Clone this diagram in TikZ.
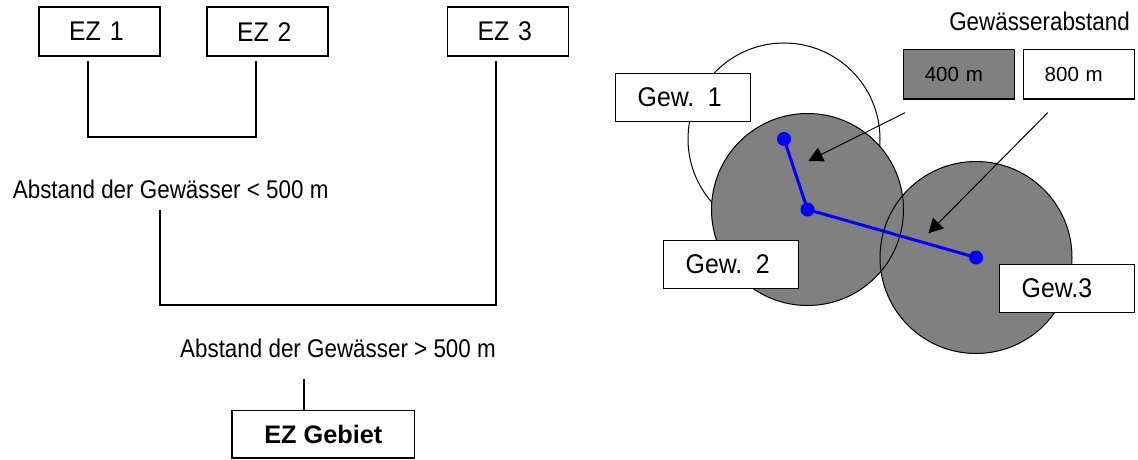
\documentclass[tikz,border=0pt]{standalone}
\usepackage{fontspec}
\setmainfont{Liberation Sans}
\newfontfamily\boxfont[FakeStretch=0.92]{Liberation Sans}
\newfontfamily\narrowfont[FakeStretch=0.875]{Liberation Sans}
\usetikzlibrary{arrows.meta}
\definecolor{areagray}{RGB}{128,128,128}
\definecolor{netblue}{RGB}{0,0,255}
\begin{document}
\begin{tikzpicture}[x=1pt,y=-1pt,
  ezbox/.style={draw, line width=1.3pt, fill=white, minimum height=49pt,
    text width=61pt, inner xsep=30pt, align=left,
    font={\boxfont\fontsize{27}{30}\selectfont}},
  gewbox/.style={draw, line width=1.3pt, fill=white, minimum height=48pt,
    text width=91pt, inner xsep=22pt, align=left,
    font={\boxfont\fontsize{27}{30}\selectfont}},
  legbox/.style={draw, line width=1.3pt, minimum height=49.7pt,
    text width=69pt, inner xsep=21pt, align=left,
    font={\fontsize{20.5}{24}\selectfont}},
  gebietbox/.style={draw, line width=1.3pt, minimum width=182.7pt, minimum height=47.3pt,
    font={\bfseries\fontsize{25.3}{28}\selectfont}},
  lbl/.style={inner sep=0pt, font={\narrowfont\fontsize{25.6}{28}\selectfont}},
  conn/.style={line width=1.3pt},
  ring/.style={line width=1pt},
  pointer/.style={line width=1pt, -{Triangle[length=14.5pt,width=15pt]}},
  link/.style={netblue, line width=3pt},
  dot/.style={circle, fill=netblue, inner sep=0pt, minimum size=14pt}
]
\useasboundingbox (0,0) rectangle (1138,460);

% ---------- left: hierarchy ----------
\node[ezbox] (ez1) at (99.6,31.6) {EZ 1};
\node[ezbox] (ez2) at (267.5,31.6) {EZ 2};
\node[ezbox] (ez3) at (508,31.6) {EZ 3};

\coordinate (a1) at (88,61);
\coordinate (a2) at (256,61);
\coordinate (a3) at (496,61);
\draw[conn] (a1) -- (88,137) -- (256,137) -- (a2);

\node[lbl, anchor=base west] (lt) at (12.7,198.3) {Abstand der Gewässer < 500 m};
\coordinate (b1) at (160,210);
\draw[conn] (b1) -- (160,305) -- (496,305) -- (a3);

\node[lbl, anchor=base east] (gt) at (496,357.7) {Abstand der Gewässer > 500 m};
\node[gebietbox] (gebiet) at (323.3,434.4) {EZ Gebiet};
\coordinate (c1) at (304,379);
\draw[conn] (c1) -- (gebiet.north -| c1);

% ---------- right: buffers ----------
\coordinate (g1) at (784,139);
\coordinate (g2) at (807.5,209.5);
\coordinate (g3) at (976,257.5);

\draw[ring, fill=white] (g1) circle[radius=96pt];
\fill[areagray] (g2) circle[radius=96pt];
\fill[areagray] (g3) circle[radius=96pt];
\draw[ring] (g2) circle[radius=96pt];
\draw[ring] (g3) circle[radius=96pt];

\draw[link] (g1) -- (g2) -- (g3);
\node[dot] (d1) at (g1) {};
\node[dot] (d2) at (g2) {};
\node[dot] (d3) at (g3) {};

\node[gewbox] (gew1) at (683.2,97.2) {Gew. 1};
\node[gewbox] (gew2) at (731.2,264.2) {Gew. 2};
\node[gewbox] (gew3) at (1067.2,288.2) {Gew.3};

\node[lbl, anchor=base east] (legtitle) at (1130,30.7) {Gewässerabstand};
\node[legbox, fill=areagray] (l400) at (959.3,74.2) {400 m};
\node[legbox, fill=white] (l800) at (1079.2,74.2) {800 m};

\coordinate (p1) at (905,112.7);
\coordinate (t1) at (808.3,161);
\coordinate (p2) at (1047.7,112.7);
\coordinate (t2) at (928.3,233.3);
\draw[pointer] (p1) -- (t1);
\draw[pointer] (p2) -- (t2);
\end{tikzpicture}
\end{document}
